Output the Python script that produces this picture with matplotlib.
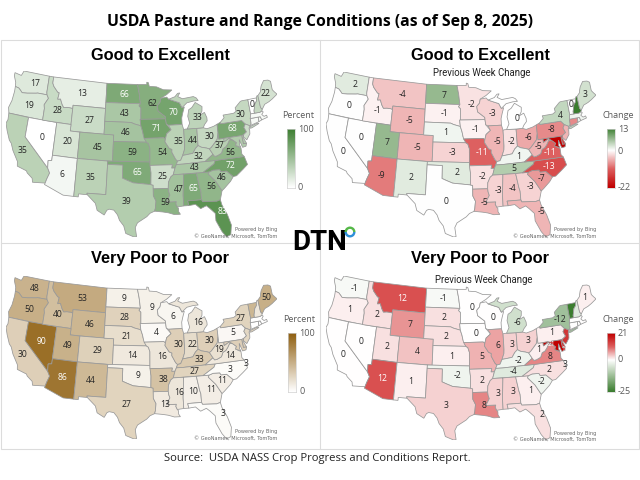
import numpy as np
import matplotlib
matplotlib.use("Agg")
import matplotlib.pyplot as plt
from matplotlib.colors import LinearSegmentedColormap, Normalize, TwoSlopeNorm
from matplotlib.patches import Polygon, Rectangle, Wedge

states = ["WA", "OR", "CA", "NV", "ID", "MT", "WY", "UT", "AZ", "CO", "NM", "ND", "SD", "NE", "KS", "OK", "TX",
          "MN", "IA", "MO", "AR", "LA", "WI", "IL", "MI", "IN", "OH", "KY", "TN", "MS", "AL", "GA", "FL", "SC",
          "NC", "VA", "WV", "PA", "NY", "VT", "NH", "ME", "MA", "CT", "RI", "NJ", "DE", "MD"]

good_pct = [17, 19, 35, 0, 28, 13, 27, 20, 6, 45, 35, 66, 43, 46, 59, 65, 39,
            62, 71, 54, 25, 59, 70, 35, 33, 44, 30, 32, 43, 47, 65, 56, 83, 46,
            72, 56, 37, 68, 30, 0, 30, 22, 5, 5, 5, 25, 40, 40]
good_chg = [2, 0, 0, 0, -1, -4, -5, 7, -9, -5, 2, 7, -1, 1, -3, 2, 0,
            -2, -1, -11, -2, -5, -3, -5, 0, -2, -6, 1, 5, -3, -4, -3, -5, -7,
            -13, -11, -5, -8, 4, 0, 13, 3, 1, -8, 1, -5, -15, -22]
poor_pct = [48, 50, 30, 90, 40, 53, 46, 49, 86, 29, 44, 9, 28, 21, 14, 9, 27,
            9, 4, 16, 38, 13, 6, 30, 16, 22, 30, 33, 27, 16, 10, 11, 3, 11,
            3, 14, 19, 5, 27, 45, 15, 50, 0, 0, 0, 25, 30, 30]
poor_chg = [-1, 1, 0, 0, 2, 12, 7, 2, 12, 4, 1, -1, 2, 2, 1, -2, 3,
            0, 0, 5, 2, 8, 0, 6, -6, 3, 3, -2, -4, 3, 3, 1, 2, -2,
            2, 8, 1, 1, -12, -25, -4, 1, 0, 0, 0, 15, 16, 21]

# small states that carry no printed number on each map
small = ["NH", "MA", "CT", "RI", "NJ", "DE", "MD"]
hidden_good = small
hidden_poor = small + ["VT"]
hidden_poor_chg = ["NH", "MA", "CT", "RI", "NJ", "VT"]

# rough state outlines, lon/lat
outlines = {
    "WA": [(-124.7, 48.4), (-123.2, 48.2), (-122.8, 49), (-117.03, 49), (-117.04, 46.4), (-116.92, 46), (-118.98, 46), (-119.3, 45.93), (-121.2, 45.65), (-122.3, 45.55), (-122.8, 45.9), (-123.2, 46.15), (-124, 46.27), (-124.1, 46.9), (-124.7, 47.9)],
    "OR": [(-124, 46.27), (-123.2, 46.15), (-122.8, 45.9), (-122.3, 45.55), (-121.2, 45.65), (-119.3, 45.93), (-118.98, 46), (-116.92, 46), (-116.5, 45.5), (-117.2, 44.4), (-117.03, 43.8), (-117.03, 42), (-124.2, 42), (-124.5, 42.85), (-124.1, 44), (-123.95, 45.5)],
    "CA": [(-124.2, 42), (-120, 42), (-120, 39), (-114.63, 35), (-114.13, 34.3), (-114.5, 33.4), (-114.72, 32.72), (-117.12, 32.53), (-117.3, 33.1), (-118.4, 33.75), (-118.6, 34.03), (-120.5, 34.45), (-120.65, 35.15), (-121.9, 36.6), (-122.5, 37.6), (-123, 38), (-123.8, 39.3), (-124.35, 40.4), (-124.1, 41)],
    "NV": [(-120, 42), (-114.04, 42), (-114.04, 36.2), (-114.74, 36.1), (-114.63, 35), (-120, 39)],
    "ID": [(-117.03, 49), (-116.05, 49), (-116.05, 48), (-115.7, 47.5), (-114.7, 46.7), (-114.35, 46.65), (-114.5, 45.6), (-113.9, 45.7), (-113.45, 44.95), (-113, 44.45), (-112.3, 44.55), (-111.5, 44.55), (-111.05, 44.48), (-111.05, 42), (-117.03, 42), (-117.03, 43.8), (-117.2, 44.4), (-116.5, 45.5), (-116.92, 46), (-117.04, 46.4)],
    "MT": [(-116.05, 49), (-104.05, 49), (-104.05, 45), (-111.05, 45), (-111.05, 44.48), (-111.5, 44.55), (-112.3, 44.55), (-113, 44.45), (-113.45, 44.95), (-113.9, 45.7), (-114.5, 45.6), (-114.35, 46.65), (-114.7, 46.7), (-115.7, 47.5), (-116.05, 48)],
    "WY": [(-111.05, 45), (-104.05, 45), (-104.05, 41), (-111.05, 41)],
    "UT": [(-114.04, 42), (-111.05, 42), (-111.05, 41), (-109.05, 41), (-109.05, 37), (-114.04, 37)],
    "CO": [(-109.05, 41), (-102.05, 41), (-102.05, 37), (-109.05, 37)],
    "AZ": [(-114.04, 37), (-109.05, 37), (-109.05, 31.33), (-111.07, 31.33), (-114.81, 32.5), (-114.72, 32.72), (-114.5, 33.4), (-114.13, 34.3), (-114.63, 35), (-114.74, 36.1), (-114.04, 36.2)],
    "NM": [(-109.05, 37), (-103, 37), (-103.04, 32), (-106.62, 32), (-106.53, 31.78), (-108.2, 31.78), (-108.2, 31.33), (-109.05, 31.33)],
    "ND": [(-104.05, 49), (-97.23, 49), (-96.85, 47.6), (-96.56, 45.93), (-104.05, 45.93)],
    "SD": [(-104.05, 45.93), (-96.56, 45.93), (-96.85, 45.6), (-96.45, 45.3), (-96.45, 43.5), (-96.6, 43.5), (-96.45, 42.5), (-97.9, 42.8), (-98.5, 43), (-104.05, 43)],
    "NE": [(-104.05, 43), (-98.5, 43), (-97.9, 42.8), (-96.45, 42.5), (-96.1, 41.7), (-95.9, 41), (-95.3, 40), (-102.05, 40), (-102.05, 41), (-104.05, 41)],
    "KS": [(-102.05, 40), (-95.3, 40), (-94.9, 39.8), (-94.6, 39.1), (-94.62, 37), (-102.05, 37)],
    "OK": [(-103, 37), (-94.62, 37), (-94.43, 35.4), (-94.48, 33.64), (-96.5, 33.8), (-97.9, 33.9), (-99.2, 34.3), (-100, 34.56), (-100, 36.5), (-103, 36.5)],
    "TX": [(-103, 36.5), (-100, 36.5), (-100, 34.56), (-99.2, 34.3), (-97.9, 33.9), (-96.5, 33.8), (-94.48, 33.64), (-94.04, 33.55), (-94.04, 32), (-93.55, 31.2), (-93.7, 30.1), (-93.85, 29.7), (-94.7, 29.4), (-95.3, 28.9), (-97, 28), (-97.4, 27.3), (-97.15, 25.96), (-97.6, 25.9), (-99.1, 26.4), (-99.5, 27.5), (-100.3, 28.3), (-100.7, 29.1), (-101.4, 29.77), (-102.3, 29.88), (-102.7, 29.7), (-103.15, 28.98), (-104.5, 29.6), (-104.9, 30.6), (-106.53, 31.78), (-106.62, 32), (-103.04, 32)],
    "MN": [(-97.23, 49), (-95.15, 49), (-95.15, 49.38), (-94.8, 49.3), (-94.6, 48.7), (-93, 48.6), (-91.5, 48.1), (-89.6, 48), (-90.8, 47.3), (-92.1, 46.75), (-92.3, 46.1), (-92.9, 45.6), (-92.75, 44.75), (-91.25, 43.85), (-91.22, 43.5), (-96.45, 43.5), (-96.45, 45.3), (-96.85, 45.6), (-96.56, 45.93), (-96.85, 47.6)],
    "IA": [(-96.6, 43.5), (-91.22, 43.5), (-91.1, 42.7), (-90.15, 41.8), (-91.1, 41.2), (-91.4, 40.4), (-91.73, 40.61), (-95.77, 40.58), (-95.9, 41), (-96.1, 41.7), (-96.45, 42.5)],
    "MO": [(-95.77, 40.58), (-91.73, 40.61), (-91.4, 40.4), (-91.5, 40), (-90.7, 39), (-90.15, 38.8), (-90.2, 38.4), (-89.5, 37.3), (-89.13, 37), (-89.4, 36.5), (-89.7, 36), (-90.37, 36), (-90.2, 36.5), (-94.62, 36.5), (-94.62, 37), (-94.6, 39.1), (-94.9, 39.8), (-95.3, 40)],
    "AR": [(-94.62, 36.5), (-90.2, 36.5), (-90.37, 36), (-89.7, 36), (-90.1, 35), (-90.6, 34.7), (-91.1, 33.9), (-91.17, 33), (-94.04, 33), (-94.04, 33.55), (-94.48, 33.64), (-94.43, 35.4)],
    "LA": [(-94.04, 33), (-91.17, 33), (-91.1, 32.5), (-90.9, 32), (-91.6, 31), (-89.73, 31), (-89.85, 30.67), (-89.6, 30.2), (-89.4, 30), (-89.4, 29.5), (-89.1, 29.1), (-90.2, 29.1), (-91.3, 29.4), (-92.3, 29.55), (-93.85, 29.7), (-93.7, 30.1), (-93.55, 31.2), (-94.04, 32)],
    "WI": [(-92.1, 46.75), (-90.8, 46.9), (-90.4, 46.55), (-89, 46.15), (-88.1, 45.9), (-87.6, 45.1), (-87.1, 45.2), (-87.5, 44.3), (-87.8, 43.5), (-87.8, 42.5), (-90.65, 42.5), (-91.1, 42.7), (-91.22, 43.5), (-91.25, 43.85), (-92.75, 44.75), (-92.9, 45.6), (-92.3, 46.1)],
    "IL": [(-90.65, 42.5), (-87.8, 42.5), (-87.53, 41.7), (-87.53, 39.3), (-87.6, 38.7), (-88.05, 37.8), (-88.5, 37.1), (-89.13, 37), (-89.5, 37.3), (-90.2, 38.4), (-90.15, 38.8), (-90.7, 39), (-91.5, 40), (-91.4, 40.4), (-91.1, 41.2), (-90.15, 41.8)],
    "IN": [(-87.53, 41.7), (-87.2, 41.76), (-84.8, 41.72), (-84.82, 39.1), (-85.4, 38.7), (-86, 38), (-87, 37.9), (-88.05, 37.8), (-87.6, 38.7), (-87.53, 39.3)],
    "OH": [(-84.8, 41.72), (-83.45, 41.72), (-82.7, 41.5), (-81.3, 41.75), (-80.52, 42), (-80.52, 40.64), (-80.85, 39.7), (-81.7, 39), (-82.2, 38.6), (-82.6, 38.42), (-83.2, 38.6), (-84.2, 38.8), (-84.82, 39.1)],
    "MI": [(-86.8, 41.76), (-84.8, 41.72), (-83.45, 41.72), (-83.1, 42.2), (-82.5, 42.7), (-82.5, 43.2), (-82.9, 44.05), (-83.9, 43.7), (-83.4, 44.3), (-83.3, 45), (-84.7, 45.75), (-85.5, 45), (-86.2, 44.7), (-86.5, 43.7), (-86.2, 42.6)],
    "MI2": [(-90.4, 46.55), (-89, 46.9), (-88.4, 47.4), (-87.9, 47.45), (-88.4, 46.9), (-87.4, 46.5), (-85, 46.7), (-84.4, 46.45), (-84, 46), (-85, 46), (-86.5, 45.8), (-87.6, 45.1), (-88.1, 45.9), (-89, 46.15)],
    "KY": [(-89.4, 36.5), (-89.13, 37), (-88.5, 37.1), (-88.05, 37.8), (-87, 37.9), (-86, 38), (-85.4, 38.7), (-84.82, 39.1), (-84.2, 38.8), (-83.2, 38.6), (-82.6, 38.42), (-82, 37.55), (-83.7, 36.6), (-88.07, 36.5)],
    "TN": [(-90.1, 35), (-89.7, 36), (-89.4, 36.5), (-88.07, 36.5), (-83.7, 36.6), (-81.68, 36.59), (-82, 36.1), (-84.3, 35)],
    "MS": [(-90.1, 35), (-88.2, 35), (-88.1, 34.9), (-88.4, 31.9), (-88.4, 30.3), (-89.6, 30.2), (-89.85, 30.67), (-89.73, 31), (-91.6, 31), (-90.9, 32), (-91.1, 32.5), (-91.17, 33), (-91.1, 33.9), (-90.6, 34.7)],
    "AL": [(-88.2, 35), (-85.6, 35), (-85.18, 32.87), (-85, 32.3), (-85, 31), (-87.6, 31), (-87.45, 30.3), (-88.4, 30.3), (-88.4, 31.9), (-88.1, 34.9)],
    "GA": [(-85.6, 35), (-83.1, 35), (-83.3, 34.7), (-82, 33.5), (-81, 32), (-81.5, 30.7), (-82.2, 30.55), (-84.85, 30.7), (-85, 31), (-85, 32.3), (-85.18, 32.87)],
    "FL": [(-87.6, 31), (-85, 31), (-84.85, 30.7), (-82.2, 30.55), (-81.5, 30.7), (-81.3, 29.9), (-80.5, 28.4), (-80, 26.8), (-80.3, 25.4), (-81.1, 25.15), (-81.8, 26), (-82.7, 27.7), (-82.7, 28.8), (-83.6, 29.6), (-84.2, 30.05), (-85.3, 29.7), (-86.2, 30.4), (-87.45, 30.3)],
    "SC": [(-83.1, 35), (-82.3, 35.2), (-81, 35.15), (-80.8, 34.82), (-79.7, 34.8), (-78.55, 33.85), (-79.2, 33.2), (-80.5, 32.3), (-81, 32), (-82, 33.5), (-83.3, 34.7)],
    "NC": [(-84.3, 35), (-82, 36.1), (-81.68, 36.59), (-75.9, 36.55), (-75.5, 35.3), (-76.5, 34.7), (-77.9, 33.9), (-78.55, 33.85), (-79.7, 34.8), (-80.8, 34.82), (-81, 35.15), (-82.3, 35.2), (-83.1, 35)],
    "VA": [(-83.7, 36.6), (-82, 37.55), (-81.7, 37.2), (-81.2, 37.25), (-80.3, 37.55), (-79.9, 38.2), (-79.3, 38.4), (-78.85, 38.8), (-78.35, 39.4), (-77.75, 39.3), (-77.05, 38.8), (-77.3, 38.4), (-76.3, 37.9), (-76.3, 36.95), (-75.9, 36.55), (-81.68, 36.59)],
    "WV": [(-82.6, 38.42), (-82.2, 38.6), (-81.7, 39), (-80.85, 39.7), (-80.52, 40.64), (-80.52, 39.72), (-79.48, 39.72), (-79.48, 39.2), (-78.4, 39.65), (-77.75, 39.3), (-78.35, 39.4), (-78.85, 38.8), (-79.3, 38.4), (-79.9, 38.2), (-80.3, 37.55), (-81.2, 37.25), (-81.7, 37.2), (-82, 37.55)],
    "PA": [(-80.52, 42), (-79.76, 42.25), (-79.76, 42), (-75.35, 42), (-74.7, 41.36), (-75.1, 40.9), (-74.72, 40.15), (-75.4, 39.8), (-75.8, 39.72), (-80.52, 39.72)],
    "NY": [(-79.76, 42.25), (-78.9, 42.85), (-79.05, 43.27), (-76.8, 43.3), (-76.2, 43.55), (-76.3, 44.1), (-75, 44.95), (-74.7, 45), (-73.35, 45), (-73.3, 43.6), (-73.27, 42.75), (-73.5, 42.05), (-73.5, 41.3), (-73.65, 41), (-73.9, 41), (-74.7, 41.36), (-75.35, 42), (-79.76, 42)],
    "NY2": [(-74, 40.6), (-73.75, 40.85), (-72.3, 41.15), (-71.9, 41.05), (-73.5, 40.6)],
    "NJ": [(-74.7, 41.36), (-73.9, 41), (-74.1, 40.5), (-74, 40.4), (-74.1, 39.75), (-74.9, 38.95), (-75.5, 39.5), (-75.4, 39.8), (-74.72, 40.15), (-75.1, 40.9)],
    "DE": [(-75.8, 39.72), (-75.4, 39.8), (-75.55, 39.4), (-75.05, 38.45), (-75.7, 38.46)],
    "MD": [(-79.48, 39.72), (-75.8, 39.72), (-75.7, 38.46), (-75.05, 38.45), (-75.25, 38.03), (-75.95, 37.95), (-76.2, 38.6), (-76.4, 39.2), (-76.5, 38.4), (-76.3, 38), (-77.3, 38.4), (-77.05, 38.8), (-77.75, 39.3), (-78.4, 39.65), (-79.48, 39.2)],
    "CT": [(-73.5, 42.05), (-71.8, 42.02), (-71.85, 41.32), (-73.65, 41), (-73.5, 41.3)],
    "RI": [(-71.8, 42.02), (-71.38, 42.02), (-71.2, 41.5), (-71.85, 41.32)],
    "MA": [(-73.5, 42.05), (-73.27, 42.75), (-71.3, 42.7), (-70.85, 42.85), (-70.6, 42.65), (-71, 42.3), (-70.6, 41.95), (-70.05, 42.05), (-69.95, 41.7), (-70.6, 41.6), (-71.2, 41.5), (-71.38, 42.02)],
    "VT": [(-73.35, 45), (-71.5, 45), (-71.6, 44.5), (-72.05, 44.1), (-72.45, 43.1), (-72.46, 42.73), (-73.27, 42.75), (-73.3, 43.6)],
    "NH": [(-71.5, 45), (-71.3, 45.3), (-71.08, 45.3), (-70.98, 43.4), (-70.7, 43.07), (-70.85, 42.85), (-71.3, 42.7), (-72.46, 42.73), (-72.45, 43.1), (-72.05, 44.1), (-71.6, 44.5)],
    "ME": [(-71.08, 45.3), (-70.4, 45.8), (-70.25, 46.2), (-70, 46.7), (-69.25, 47.45), (-68.3, 47.35), (-67.8, 47.07), (-67.8, 45.7), (-67.45, 45.3), (-67, 44.85), (-68.2, 44.3), (-69, 44), (-70, 43.75), (-70.7, 43.07), (-70.98, 43.4)],
}

label_at = {
    "WA": (-119.9, 47.4), "OR": (-120.3, 43.9), "CA": (-120, 36.9), "NV": (-116.7, 39.4), "ID": (-114.2, 43.9),
    "MT": (-109.3, 47), "WY": (-107.2, 43), "UT": (-111.4, 39.3), "AZ": (-111.7, 34.3), "CO": (-105.2, 39),
    "NM": (-106.1, 34.4), "ND": (-100.1, 47.4), "SD": (-99.9, 44.4), "NE": (-99.5, 41.5), "KS": (-98.1, 38.5),
    "OK": (-97, 35.5), "TX": (-99.1, 31.1), "MN": (-94, 46), "IA": (-93.2, 42), "MO": (-92.1, 38.4),
    "AR": (-92.1, 34.8), "LA": (-91.9, 31), "WI": (-89.5, 44.4), "IL": (-88.8, 40), "MI": (-84.4, 43.3),
    "IN": (-85.9, 39.9), "OH": (-82.4, 40.3), "KY": (-84.8, 37.5), "TN": (-85.9, 35.8), "MS": (-89.2, 32.7),
    "AL": (-86.4, 32.8), "GA": (-83, 32.8), "FL": (-81.3, 29), "SC": (-80.7, 33.9), "NC": (-78.9, 35.5),
    "VA": (-78.5, 37.5), "WV": (-80.5, 38.7), "PA": (-77.4, 41), "NY": (-75.3, 42.9), "VT": (-72.7, 44.2),
    "ME": (-69.3, 45.4), "MD": (-77.9, 39.25), "DE": (-75.2, 38.2),
}


def albers(lon, lat):
    # flatter cone than the usual 29.5/45.5 parallels, closer to the reference
    p1, p2, p0, l0 = np.radians([20, 34, 37.5, -96])
    n = (np.sin(p1) + np.sin(p2)) / 2
    c = np.cos(p1) ** 2 + 2 * n * np.sin(p1)
    rho0 = np.sqrt(c - 2 * n * np.sin(p0)) / n
    lon, lat = np.radians(lon), np.radians(lat)
    rho = np.sqrt(c - 2 * n * np.sin(lat)) / n
    return rho * np.sin(n * (lon - l0)), rho0 - rho * np.cos(n * (lon - l0))


all_pts = np.array([p for pts in outlines.values() for p in pts])
all_x, all_y = albers(all_pts[:, 0], all_pts[:, 1])

green_map = LinearSegmentedColormap.from_list("g", ["#ffffff", "#3b7d2f"])
brown_map = LinearSegmentedColormap.from_list("b", ["#ffffff", "#8f5f10"])
change_green_up = LinearSegmentedColormap.from_list("c", [(0, "#c00000"), (0.25, "#dd5f5f"), (0.5, "#ffffff"), (1, "#3b7d2f")])
change_red_up = LinearSegmentedColormap.from_list("r", [(0, "#3b7d2f"), (0.5, "#ffffff"), (0.75, "#dd5f5f"), (1, "#c00000")])

fig = plt.figure(figsize=(6.4, 4.8), dpi=100)
page = fig.add_axes([0, 0, 1, 1])
page.set_xlim(0, 640)
page.set_ylim(480, 0)
page.axis("off")
page.set_zorder(10)


def pixel_axes(x0, y0, x1, y1):
    return fig.add_axes([x0 / 640, 1 - y1 / 480, (x1 - x0) / 640, (y1 - y0) / 480])


def draw_map(box, values, cmap, norm, hidden, extra=None):
    ax = pixel_axes(*box)
    ax.set_xlim(all_x.min(), all_x.max())
    ax.set_ylim(all_y.min(), all_y.max())
    ax.axis("off")
    lookup = dict(zip(states, values))
    for name, pts in outlines.items():
        pts = np.array(pts)
        x, y = albers(pts[:, 0], pts[:, 1])
        color = cmap(norm(lookup[name[:2]]))
        ax.add_patch(Polygon(np.column_stack([x, y]), closed=True, facecolor=color, edgecolor="#999999", lw=0.55))
    for name, val in zip(states, values):
        if name in hidden:
            continue
        r, g, b, _ = cmap(norm(val))
        lum = 0.3 * r + 0.59 * g + 0.11 * b
        x, y = albers(*label_at[name])
        ax.text(x, y, str(val), ha="center", va="center", fontsize=4.8 if name in small else 6.2,
                fontfamily="Open Sans", color="white" if lum < 0.6 else "#262626")
    if extra:
        x, y = albers(*extra[0])
        ax.text(x, y, extra[1], ha="center", va="center", fontsize=6.2, fontfamily="Open Sans", color="#262626")
    page.text(box[2], box[3] - 7, "Powered by Bing", ha="right", va="center", fontsize=3.6, color="#666666")
    page.text(box[2], box[3] - 1, "© GeoNames, Microsoft, TomTom", ha="right", va="center", fontsize=3.6, color="#666666")


def draw_bar(x0, y0, y1, cmap, norm, lo, hi, title, ticks, tick_ys):
    ax = pixel_axes(x0, y0, x0 + 8, y1)
    ax.imshow(np.linspace(hi, lo, 100).reshape(-1, 1), cmap=cmap, norm=norm, aspect="auto")
    ax.set_xticks([])
    ax.set_yticks([])
    for s in ax.spines.values():
        s.set_edgecolor("#d0d0d0")
        s.set_linewidth(0.5)
    page.text(x0 + 11, y0 - 13, title, ha="center", va="center", fontsize=6.5, color="#595959", fontfamily="Open Sans")
    for t, y in zip(ticks, tick_ys):
        page.text(x0 + 11, y, t, ha="left", va="center", fontsize=6.5, color="#595959", fontfamily="Open Sans")


# frame
page.add_patch(Rectangle((1, 40), 638, 409, fill=False, edgecolor="#dcdcdc", lw=0.8))
page.plot([320, 320], [40, 449], color="#dcdcdc", lw=0.8)
page.plot([1, 639], [243, 243], color="#dcdcdc", lw=0.8)

page.text(320, 22, "USDA Pasture and Range Conditions (as of Sep 8, 2025)", ha="center", va="center",
          fontsize=11.3, fontweight="bold", fontfamily="Open Sans", color="black")
page.text(317, 459, "Source:  USDA NASS Crop Progress and Conditions Report.", ha="center", va="center",
          fontsize=8.1, fontfamily="Open Sans", color="#222222")

for x, y, t in [(160, 55, "Good to Excellent"), (480, 55, "Good to Excellent"),
                (160, 258, "Very Poor to Poor"), (480, 258, "Very Poor to Poor")]:
    page.text(x, y, t, ha="center", va="center", fontsize=11.8, fontweight="bold",
              fontfamily="Liberation Sans", color="black")
page.text(482, 73, "Previous Week Change", ha="center", va="center", fontsize=6.9, fontfamily="Roboto", color="#222222")
page.text(484, 280, "Previous Week Change", ha="center", va="center", fontsize=6.9, fontfamily="Roboto", color="#222222")

coast = (-75.6, 35.9)
pct_norm = Normalize(0, 100)
good_norm = TwoSlopeNorm(0, -22, 13)
poor_norm = TwoSlopeNorm(0, -25, 21)
draw_map((6, 71, 277, 237), good_pct, green_map, pct_norm, hidden_good)
draw_map((326, 72, 596, 237), good_chg, change_green_up, good_norm, hidden_good)
draw_map((6, 276, 277, 439), poor_pct, brown_map, pct_norm, hidden_poor, (coast, "3"))
draw_map((326, 276, 596, 440), poor_chg, change_red_up, poor_norm, hidden_poor_chg, (coast, "3"))

draw_bar(287, 129, 188, green_map, pct_norm, 0, 100, "Percent", ["100", "0"], [129, 188])
draw_bar(607, 129, 188, change_green_up, good_norm, -22, 13, "Change", ["13", "0", "-22"], [129, 151, 188])
draw_bar(288, 333, 392, brown_map, pct_norm, 0, 100, "Percent", ["100", "0"], [333, 392])
draw_bar(607, 333, 392, change_red_up, poor_norm, -25, 21, "Change", ["21", "0", "-25"], [333, 360, 392])

# DTN logo
page.text(319.5, 242.5, "DTN", ha="center", va="center", fontsize=20, fontweight="bold", fontfamily="Roboto", color="black", zorder=8)
page.add_patch(Wedge((350, 232), 5.5, 180, 360, width=2.4, facecolor="#55b848", zorder=8))
page.add_patch(Wedge((350, 232), 5.5, 0, 180, width=2.4, facecolor="#2f8fd8", zorder=8))

fig.savefig("out.png", dpi=100)
